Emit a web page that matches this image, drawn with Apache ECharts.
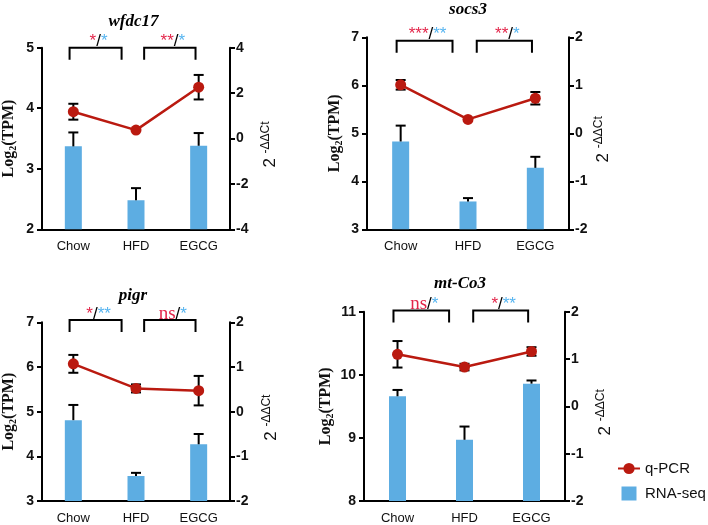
<!DOCTYPE html>
<html><head><meta charset="utf-8">
<script src="https://cdn.jsdelivr.net/npm/echarts@6/dist/echarts.min.js"></script>
<style>html,body{margin:0;padding:0;background:#fff}#c{width:708px;height:525px}</style>
</head><body><div id="c"></div>
<script>
const categories = ['Chow', 'HFD', 'EGCG'];
const genes = ['wfdc17', 'socs3', 'pigr', 'mt-Co3'];

// RNA-seq (Log2 TPM), mean and upper error
const wfdc17Rna = [3.37, 2.48, 3.38];
const wfdc17RnaErr = [0.23, 0.20, 0.21];
const socs3Rna = [4.83, 3.58, 4.28];
const socs3RnaErr = [0.33, 0.07, 0.23];
const pigrRna = [4.81, 3.56, 4.27];
const pigrRnaErr = [0.34, 0.07, 0.23];
const mtCo3Rna = [9.66, 8.97, 9.86];
const mtCo3RnaErr = [0.10, 0.21, 0.05];

// q-PCR (2^-ΔΔCt), mean and error
const wfdc17Pcr = [1.18, 0.37, 2.26];
const wfdc17PcrErr = [0.35, 0.04, 0.54];
const socs3Pcr = [1.01, 0.29, 0.73];
const socs3PcrErr = [0.10, 0.03, 0.13];
const pigrPcr = [1.07, 0.52, 0.47];
const pigrPcrErr = [0.20, 0.09, 0.33];
const mtCo3Pcr = [1.10, 0.83, 1.16];
const mtCo3PcrErr = [0.28, 0.07, 0.09];

// significance labels [q-PCR, RNA-seq] for Chow vs HFD, HFD vs EGCG
const wfdc17Sig = [['*', '*'], ['**', '*']];
const socs3Sig = [['***', '**'], ['**', '*']];
const pigrSig = [['*', '**'], ['ns', '*']];
const mtCo3Sig = [['ns', '*'], ['*', '**']];

// tick labels
const wfdc17LeftTicks = [2, 3, 4, 5];
const wfdc17RightTicks = [-4, -2, 0, 2, 4];
const socs3LeftTicks = [3, 4, 5, 6, 7];
const socs3RightTicks = [-2, -1, 0, 1, 2];
const pigrLeftTicks = [3, 4, 5, 6, 7];
const pigrRightTicks = [-2, -1, 0, 1, 2];
const mtCo3LeftTicks = [8, 9, 10, 11];
const mtCo3RightTicks = [-2, -1, 0, 1, 2];

const panels = [
  {gene: genes[0], rna: wfdc17Rna, rnaErr: wfdc17RnaErr, pcr: wfdc17Pcr, pcrErr: wfdc17PcrErr, sig: wfdc17Sig, lt: wfdc17LeftTicks, rt: wfdc17RightTicks,
   grid: {left: 40, top: 47.7, width: 190, height: 181.6}, title: [133.5, 13], lGap: 24, rGap: 30, brTop: 5.0},
  {gene: genes[1], rna: socs3Rna, rnaErr: socs3RnaErr, pcr: socs3Pcr, pcrErr: socs3PcrErr, sig: socs3Sig, lt: socs3LeftTicks, rt: socs3RightTicks,
   grid: {left: 367, top: 37.3, width: 202, height: 192}, title: [468, 1], lGap: 23, rGap: 24, brTop: 6.93},
  {gene: genes[2], rna: pigrRna, rnaErr: pigrRnaErr, pcr: pigrPcr, pcrErr: pigrPcrErr, sig: pigrSig, lt: pigrLeftTicks, rt: pigrRightTicks,
   grid: {left: 40, top: 322.3, width: 190, height: 180}, title: [133, 287], lGap: 24, rGap: 31, brTop: 7.05},
  {gene: genes[3], rna: mtCo3Rna, rnaErr: mtCo3RnaErr, pcr: mtCo3Pcr, pcrErr: mtCo3PcrErr, sig: mtCo3Sig, lt: mtCo3LeftTicks, rt: mtCo3RightTicks,
   grid: {left: 364, top: 311.7, width: 201, height: 189.3}, title: [460, 275], lGap: 29, rGap: 30, brTop: 11.02}
];

const RED_LINE = '#BA1A10';
const BAR = '#5DADE2';
const SIG_RED = '#E3264A';
const SIG_BLUE = '#55B4F0';
const SANS = 'Liberation Sans, Arial, sans-serif';
const SERIF = 'Liberation Serif, Times New Roman, serif';
const spans = [[-0.06, 0.77], [1.13, 1.95]];

function errRender(oneSided) {
  return function (params, api) {
    const x = api.value(0), v = api.value(1), e = api.value(2);
    const top = api.coord([x, v + e]);
    const base = api.coord([x, oneSided ? v : v - e]);
    const hw = 5;
    const st = {stroke: '#000', lineWidth: 2};
    const ch = [
      {type: 'line', shape: {x1: top[0], y1: top[1], x2: base[0], y2: base[1]}, style: st},
      {type: 'line', shape: {x1: top[0] - hw, y1: top[1], x2: top[0] + hw, y2: top[1]}, style: st}
    ];
    if (!oneSided) ch.push({type: 'line', shape: {x1: base[0] - hw, y1: base[1], x2: base[0] + hw, y2: base[1]}, style: st});
    return {type: 'group', children: ch};
  };
}

function bracketRender(p) {
  return function (params, api) {
    const i = params.dataIndex;
    const c0 = api.coord([0, p.brTop]);
    const band = api.size([1, 0])[0];
    const x1 = c0[0] + spans[i][0] * band;
    const x2 = c0[0] + spans[i][1] * band;
    const y = c0[1];
    const drop = 12;
    const st = {stroke: '#000', lineWidth: 2, fill: null};
    const s = p.sig[i];
    const first = s[0] === 'ns' ? '{rn|ns}' : '{r|' + s[0] + '}';
    const txt = first + '{k|/}' + '{b|' + s[1] + '}';
    return {type: 'group', children: [
      {type: 'polyline', shape: {points: [[x1, y + drop], [x1, y], [x2, y], [x2, y + drop]]}, style: st},
      {type: 'text', style: {text: txt, x: (x1 + x2) / 2 + 3, y: y + 4, align: 'center', verticalAlign: 'bottom',
        rich: {
          r: {fill: SIG_RED, fontSize: 17, fontFamily: SANS, lineHeight: 20},
          b: {fill: SIG_BLUE, fontSize: 17, fontFamily: SANS, lineHeight: 20},
          k: {fill: '#000', fontSize: 17, fontFamily: SANS, lineHeight: 20},
          rn: {fill: SIG_RED, fontSize: 19, fontFamily: SERIF, lineHeight: 20}
        }}}
    ]};
  };
}

const option = {
  animation: false,
  backgroundColor: '#fff',
  title: panels.map(p => ({text: p.gene, left: p.title[0], top: p.title[1], textAlign: 'center', padding: 0,
    textStyle: {fontFamily: SERIF, fontStyle: 'italic', fontWeight: 'bold', fontSize: 17, color: '#000'}})),
  legend: {
    orient: 'vertical', left: 612, top: 456, itemWidth: 22, itemHeight: 14, itemGap: 10,
    data: [{name: 'q-PCR'}, {name: 'RNA-seq', icon: 'path://M0,0h15v14h-15z'}],
    textStyle: {fontSize: 15, fontFamily: SANS, color: '#111'}
  },
  grid: panels.map(p => Object.assign({containLabel: false}, p.grid)),
  xAxis: panels.map((p, i) => ({
    type: 'category', gridIndex: i, data: categories, boundaryGap: true,
    axisLine: {onZero: false, lineStyle: {color: '#000', width: 2}},
    axisTick: {alignWithLabel: true, length: 5, lineStyle: {color: '#000', width: 2}},
    axisLabel: {fontFamily: SANS, fontSize: 13, color: '#111', margin: 11}
  })),
  yAxis: [].concat(...panels.map((p, i) => [
    {
      type: 'value', gridIndex: i, position: 'left',
      min: p.lt[0], max: p.lt[p.lt.length - 1], interval: p.lt[1] - p.lt[0],
      splitLine: {show: false},
      axisLine: {show: true, onZero: false, lineStyle: {color: '#000', width: 2}},
      axisTick: {show: true, length: 5, lineStyle: {color: '#000', width: 2}},
      axisLabel: {fontFamily: SANS, fontWeight: 'bold', fontSize: 14, color: '#111', margin: 8},
      name: '{m|Log}{s|2}{m|(TPM)}', nameLocation: 'middle', nameGap: p.lGap, nameRotate: 90,
      nameTextStyle: {rich: {
        m: {fontFamily: SERIF, fontWeight: 'bold', fontSize: 16, color: '#111', lineHeight: 18},
        s: {fontFamily: SERIF, fontWeight: 'bold', fontSize: 10, color: '#111', lineHeight: 18, verticalAlign: 'bottom'}
      }}
    },
    {
      type: 'value', gridIndex: i, position: 'right',
      min: p.rt[0], max: p.rt[p.rt.length - 1], interval: p.rt[1] - p.rt[0],
      splitLine: {show: false},
      axisLine: {show: true, onZero: false, lineStyle: {color: '#000', width: 2}},
      axisTick: {show: true, length: 5, lineStyle: {color: '#000', width: 2}},
      axisLabel: {fontFamily: SANS, fontWeight: 'bold', fontSize: 14, color: '#111', margin: 6},
      name: '{a|2 }{s|-ΔΔCt}', nameLocation: 'middle', nameGap: p.rGap, nameRotate: 90,
      nameTextStyle: {padding: [0, 12, 0, 0], rich: {
        a: {fontFamily: SANS, fontSize: 17, color: '#111', lineHeight: 20},
        s: {fontFamily: SANS, fontSize: 12, color: '#111', lineHeight: 20, verticalAlign: 'top'}
      }}
    }
  ])),
  series: [].concat(...panels.map((p, i) => [
    {name: 'RNA-seq', type: 'bar', xAxisIndex: i, yAxisIndex: 2 * i, barWidth: 17, data: p.rna,
     itemStyle: {color: BAR}, z: 2},
    {name: 'rnaErr' + i, type: 'custom', xAxisIndex: i, yAxisIndex: 2 * i, z: 3,
     renderItem: errRender(true), data: categories.map((c, k) => [k, p.rna[k], p.rnaErr[k]])},
    {name: 'pcrErr' + i, type: 'custom', xAxisIndex: i, yAxisIndex: 2 * i + 1, z: 4,
     renderItem: errRender(false), data: categories.map((c, k) => [k, p.pcr[k], p.pcrErr[k]])},
    {name: 'q-PCR', type: 'line', xAxisIndex: i, yAxisIndex: 2 * i + 1, data: p.pcr, z: 5,
     symbol: 'circle', symbolSize: 11, lineStyle: {color: RED_LINE, width: 2.5}, itemStyle: {color: RED_LINE}},
    {name: 'sig' + i, type: 'custom', xAxisIndex: i, yAxisIndex: 2 * i, z: 6,
     renderItem: bracketRender(p), data: p.sig.map((s, k) => [k, p.brTop])}
  ]))
};

const chart = echarts.init(document.getElementById('c'), null, {renderer: 'canvas'});
chart.setOption(option);
</script>
</body></html>
